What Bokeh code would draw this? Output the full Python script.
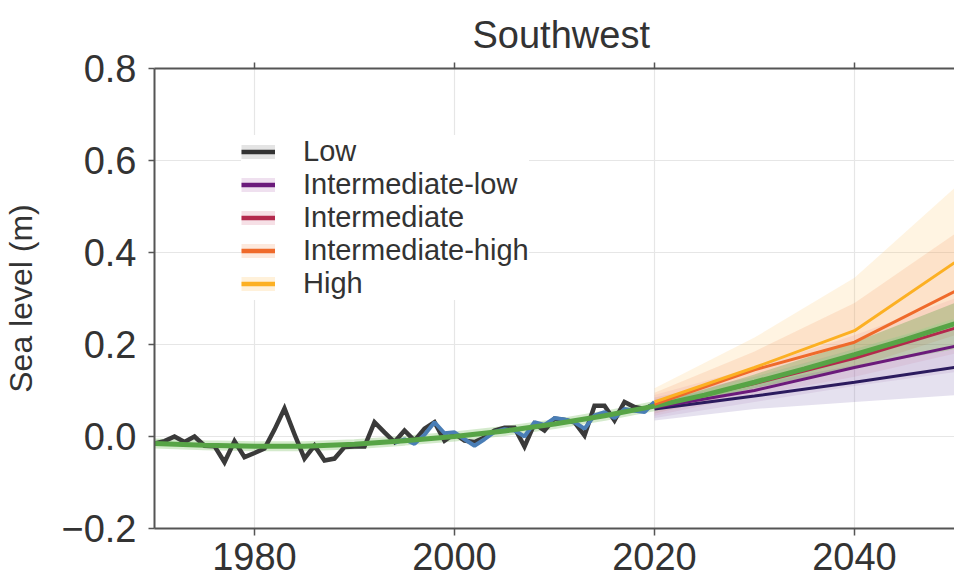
import numpy as np
from bokeh.plotting import figure
from bokeh.models import (Range1d, LinearAxis, FixedTicker, CustomJSTickFormatter,
                          Legend, LegendItem)
from bokeh.embed import file_html
from bokeh.resources import INLINE

# ---------------- data ----------------
obs_years = list(range(1970, 2021))
tide_gauge = [-0.015, -0.010, 0.000, -0.012, 0.000, -0.020, -0.021, -0.056, -0.010, -0.045,
              -0.036, -0.026, 0.015, 0.061, 0.005, -0.048, -0.020, -0.052, -0.048, -0.023,
              -0.022, -0.022, 0.031, 0.009, -0.012, 0.013, -0.009, 0.017, 0.031, -0.009,
              0.006, -0.009, -0.012, -0.002, 0.013, 0.019, 0.019, -0.022, 0.028, 0.013,
              0.039, 0.036, 0.031, 0.002, 0.067, 0.067, 0.035, 0.075, 0.064, 0.060, 0.071]

alt_years = list(range(1994, 2021))
altimetry = [-0.014, -0.006, -0.016, 0.004, 0.031, 0.007, 0.009, -0.006, -0.020, -0.006,
             0.010, 0.016, 0.013, 0.000, 0.031, 0.025, 0.040, 0.037, 0.031, 0.017,
             0.046, 0.053, 0.040, 0.060, 0.056, 0.053, 0.075]

trend_years = list(range(1970, 2051, 5))
trend = [-0.015, -0.019, -0.021, -0.021, -0.017, -0.009, 0.000, 0.012, 0.027, 0.045,
         0.066, 0.090, 0.118, 0.147, 0.178, 0.210, 0.245]
trend_band_years = [2020, 2030, 2040, 2050]
trend_lo = [0.060, 0.105, 0.150, 0.190]
trend_hi = [0.070, 0.135, 0.205, 0.290]

proj_years = [2020, 2030, 2040, 2050]
scenario_names = ["Low", "Intermediate-low", "Intermediate", "Intermediate-high", "High"]
low_mid = [0.060, 0.088, 0.118, 0.150]
low_lo = [0.035, 0.060, 0.075, 0.090]
low_hi = [0.080, 0.115, 0.155, 0.190]
intlow_mid = [0.063, 0.100, 0.150, 0.196]
intlow_lo = [0.040, 0.075, 0.110, 0.140]
intlow_hi = [0.085, 0.130, 0.190, 0.250]
int_mid = [0.066, 0.115, 0.170, 0.235]
int_lo = [0.045, 0.090, 0.130, 0.180]
int_hi = [0.090, 0.150, 0.220, 0.300]
inthigh_mid = [0.070, 0.145, 0.205, 0.315]
inthigh_lo = [0.050, 0.100, 0.150, 0.220]
inthigh_hi = [0.095, 0.185, 0.290, 0.440]
high_mid = [0.075, 0.150, 0.230, 0.378]
high_lo = [0.055, 0.110, 0.170, 0.250]
high_hi = [0.105, 0.215, 0.345, 0.540]

x_ticks = [1980, 2000, 2020, 2040]
y_ticks = [-0.2, 0.0, 0.2, 0.4, 0.6, 0.8]

# ---------------- styling ----------------
FONT = "Liberation Sans"
TXT = "#333333"
SPINE = "#555555"
GRID = "#e6e6e6"

line_colors = ["#2b1b5e", "#6b1a7b", "#b3294d", "#ef6a2b", "#fcb023"]
band_colors = ["#7b68b0", "#9a58a8", "#d85a78", "#f4894a", "#fdb84a"]
band_alphas = [0.20, 0.12, 0.10, 0.16, 0.16]
legend_line_colors = ["#333333", "#6b1a7b", "#b3294d", "#ef6a2b", "#fcb023"]
legend_band_colors = ["#e4e4e4", "#efe0ef", "#f6e0e6", "#fde9dd", "#fff1da"]

p = figure(width=954, height=586,
           x_range=Range1d(1970, 2050), y_range=Range1d(-0.2, 0.8),
           output_backend="svg", toolbar_location=None,
           min_border_left=154, min_border_right=0, min_border_top=68, min_border_bottom=58,
           outline_line_color=None, background_fill_color="white", border_fill_color="white")

# title
p.title.text = "Southwest"
p.title.text_font = FONT
p.title.text_font_size = "38px"
p.title.text_font_style = "normal"
p.title.text_color = TXT
p.title.align = "left"
p.title.offset = 318
p.title.standoff = 14

# axes
for ax in (p.xaxis[0], p.yaxis[0]):
    ax.axis_line_color = SPINE
    ax.axis_line_width = 2
    ax.major_tick_line_color = SPINE
    ax.major_tick_line_width = 1.5
    ax.major_tick_in = 0
    ax.minor_tick_line_color = None
    ax.major_label_text_font = FONT
    ax.major_label_text_color = TXT
    ax.axis_label_text_font = FONT
    ax.axis_label_text_color = TXT
    ax.axis_label_text_font_style = "normal"

p.xaxis.ticker = FixedTicker(ticks=x_ticks)
p.xaxis.major_tick_out = 7
p.xaxis.major_label_standoff = 7
p.xaxis.major_label_text_font_size = "38px"

p.yaxis.ticker = FixedTicker(ticks=y_ticks)
p.yaxis.major_tick_out = 6
p.yaxis.major_label_standoff = 12
p.yaxis.major_label_text_font_size = "38px"
p.yaxis.formatter = CustomJSTickFormatter(code="return tick.toFixed(1).replace('-', '\u2212');")
p.yaxis.axis_label = "Sea level (m)"
p.yaxis.axis_label_text_font_size = "32px"
p.yaxis.axis_label_standoff = 19

top = LinearAxis(ticker=FixedTicker(ticks=x_ticks), major_label_text_font_size="1px",
                 major_label_text_color=None,
                 major_label_standoff=0, major_tick_out=6, major_tick_in=0,
                 minor_tick_line_color=None, axis_line_color=SPINE, axis_line_width=2,
                 major_tick_line_color=SPINE, major_tick_line_width=1.5)
p.add_layout(top, "above")

p.xgrid.ticker = FixedTicker(ticks=x_ticks)
p.ygrid.ticker = FixedTicker(ticks=y_ticks)
p.grid.grid_line_color = GRID
p.grid.grid_line_width = 1.2

# projection bands
mids = [low_mid, intlow_mid, int_mid, inthigh_mid, high_mid]
los = [low_lo, intlow_lo, int_lo, inthigh_lo, high_lo]
his = [low_hi, intlow_hi, int_hi, inthigh_hi, high_hi]
for i in [4, 3, 2, 1, 0]:
    p.varea(x=proj_years, y1=los[i], y2=his[i], fill_color=band_colors[i],
            fill_alpha=band_alphas[i])
p.varea(x=trend_band_years, y1=trend_lo, y2=trend_hi, fill_color="#4f9a3a", fill_alpha=0.30)

# observations and trend
p.line(trend_years, trend, line_color="#9fd08f", line_width=10, line_alpha=0.45)
p.line(obs_years, tide_gauge, line_color="#3a3a3a", line_width=4.5, line_join="miter")
p.line(alt_years, altimetry, line_color="#4a7eb6", line_width=4)
# scenario lines
for i in [0, 1, 2]:
    p.line(proj_years, mids[i], line_color=line_colors[i], line_width=3)
p.line(trend_years, trend, line_color="#57a446", line_width=5)
for i in [3, 4]:
    p.line(proj_years, mids[i], line_color=line_colors[i], line_width=3)

# legend (proxy glyphs: light band + coloured line)
nan = np.array([np.nan])
items = []
for i, name in enumerate(scenario_names):
    band = p.line(x=nan, y=nan, line_color=legend_band_colors[i], line_width=14)
    ln = p.line(x=nan, y=nan, line_color=legend_line_colors[i], line_width=4.5)
    items.append(LegendItem(label=name, renderers=[band, ln]))

legend = Legend(items=items, location=(87, 228), orientation="vertical",
                glyph_width=34, glyph_height=31, label_height=31, spacing=0,
                label_standoff=28, padding=18, margin=0,
                label_text_font=FONT, label_text_font_size="29px", label_text_color=TXT,
                border_line_color=None, background_fill_color="white",
                background_fill_alpha=1.0)
p.add_layout(legend, "center")

open("out.html", "w").write(file_html(p, INLINE))
